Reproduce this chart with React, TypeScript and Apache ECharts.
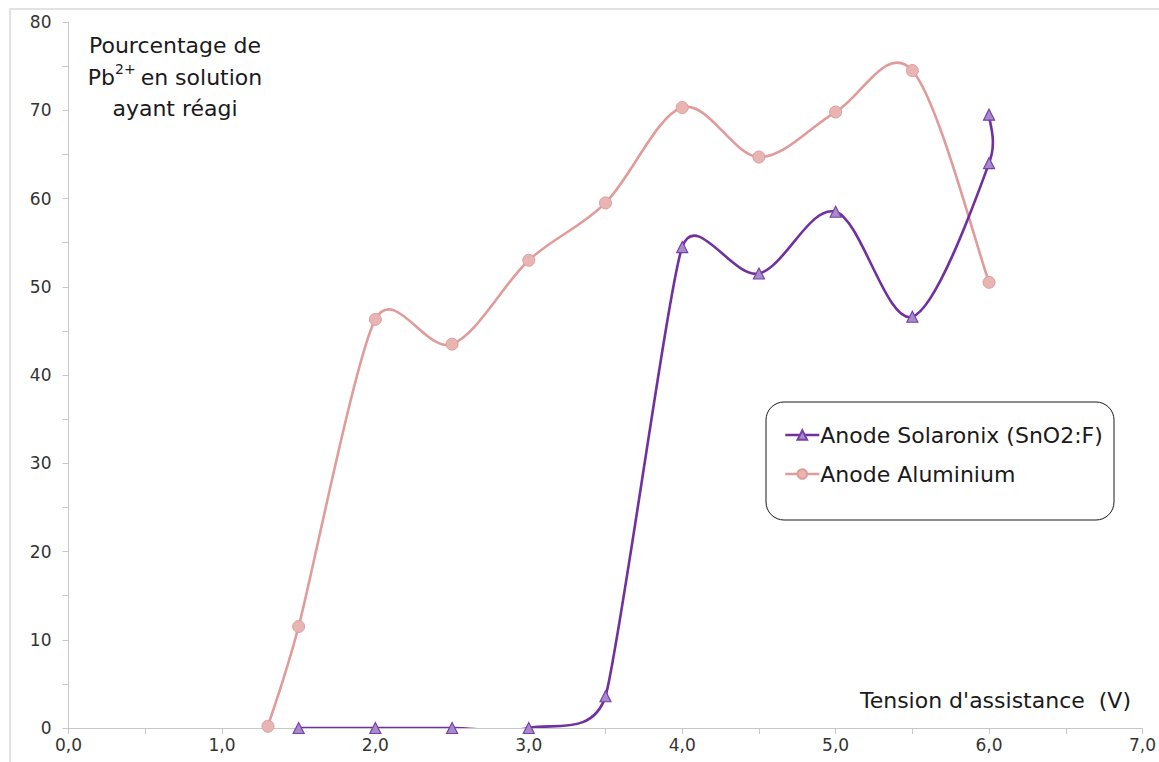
import React, { useEffect, useRef } from "react";
import * as echarts from "echarts";

const solaronixX = [1.5, 2.0, 2.5, 3.0, 3.5, 4.0, 4.5, 5.0, 5.5, 6.0, 6.0];
const solaronixY = [0, 0, 0, 0, 3.6, 54.5, 51.5, 58.5, 46.6, 64.0, 69.5];
const aluminiumX = [1.3, 1.5, 2.0, 2.5, 3.0, 3.5, 4.0, 4.5, 5.0, 5.5, 6.0];
const aluminiumY = [0.2, 11.5, 46.3, 43.5, 53.0, 59.5, 70.3, 64.7, 69.8, 74.5, 50.5];
const seriesNames = ["Anode Solaronix (SnO2:F)", "Anode Aluminium"];
const xTitle = "Tension d'assistance  (V)";

const FONT = "Verdana, 'DejaVu Sans', sans-serif";
const SOL_LINE = "#7030a0";
const ALU_LINE = "#e09c9a";

function dist(a: number[], b: number[]) {
  return Math.hypot(b[0] - a[0], b[1] - a[1]);
}

// Excel-like smoothed curve drawn through the chart's own coordinate system
function smoothRenderer(xs: number[], ys: number[], color: string) {
  return (params: any, api: any) => {
    if (params.dataIndex !== 0) return null;
    const pts = xs.map((x, i) => api.coord([x, ys[i]]));
    const n = pts.length;
    // tangent vector (scaled) at each point
    const tan = pts.map((p, i) => {
      const prev = pts[Math.max(i - 1, 0)];
      const next = pts[Math.min(i + 1, n - 1)];
      const d02 = dist(prev, next);
      if (d02 === 0) return [0, 0];
      const segs: number[] = [];
      if (i > 0) segs.push(dist(prev, p));
      if (i < n - 1) segs.push(dist(p, next));
      let f = 1 / 6;
      const lim = Math.min(...segs) / 2;
      if (d02 * f > lim) f = lim / d02;
      return [(next[0] - prev[0]) * f, (next[1] - prev[1]) * f];
    });
    let d = `M${pts[0][0]},${pts[0][1]}`;
    for (let i = 0; i < n - 1; i++) {
      const p1 = pts[i];
      const p2 = pts[i + 1];
      const c1x = p1[0] + tan[i][0];
      const c1y = p1[1] + tan[i][1];
      const c2x = p2[0] - tan[i + 1][0];
      const c2y = p2[1] - tan[i + 1][1];
      d += ` C${c1x},${c1y} ${c2x},${c2y} ${p2[0]},${p2[1]}`;
    }
    return {
      type: "path",
      shape: { pathData: d },
      style: { fill: "none", stroke: color, lineWidth: 2.6, lineJoin: "round", lineCap: "round" },
    };
  };
}

export default function App() {
  const ref = useRef<HTMLDivElement>(null);
  useEffect(() => {
    if (!ref.current) return;
    const chart = echarts.init(ref.current, undefined, { renderer: "svg" });
    const sol = solaronixX.map((x, i) => [x, solaronixY[i]]);
    const alu = aluminiumX.map((x, i) => [x, aluminiumY[i]]);
    const axisGray = "#c8c8c8";
    chart.setOption({
      animation: false,
      backgroundColor: "#ffffff",
      grid: { left: 68.5, right: 12, top: 22, bottom: 34 },
      xAxis: {
        type: "value",
        min: 0,
        max: 7,
        interval: 1,
        axisLine: { show: true, lineStyle: { color: axisGray, width: 1 } },
        axisTick: { show: true, length: 6, lineStyle: { color: axisGray } },
        minorTick: { show: true, splitNumber: 2, length: 6, lineStyle: { color: axisGray } },
        splitLine: { show: false },
        axisLabel: {
          margin: 8,
          fontSize: 17,
          fontFamily: FONT,
          color: "#333333",
          formatter: (v: number) => v.toFixed(1).replace(".", ","),
        },
      },
      yAxis: {
        type: "value",
        min: 0,
        max: 80,
        interval: 10,
        axisLine: { show: true, lineStyle: { color: axisGray, width: 1 } },
        axisTick: { show: true, length: 6, lineStyle: { color: axisGray } },
        minorTick: { show: true, splitNumber: 2, length: 6, lineStyle: { color: axisGray } },
        splitLine: { show: false },
        axisLabel: {
          margin: 17,
          fontSize: 17,
          fontFamily: FONT,
          color: "#333333",
        },
      },
      legend: {
        show: true,
        orient: "vertical",
        left: 784,
        top: 424,
        itemWidth: 34,
        itemHeight: 12,
        itemGap: 17,
        padding: 0,
        textStyle: { fontSize: 22, fontFamily: FONT, color: "#1a1a1a", padding: [0, 0, 0, -4] },
        data: [
          { name: seriesNames[0], lineStyle: { color: SOL_LINE, width: 2.6, opacity: 1 } },
          { name: seriesNames[1], lineStyle: { color: ALU_LINE, width: 2.6, opacity: 1 } },
        ],
      },
      graphic: [
        {
          type: "rect",
          shape: { x: 10, y: 9, width: 1170, height: 780 },
          style: { fill: "none", stroke: "#d9d9d9", lineWidth: 1.5 },
          silent: true,
          z: -10,
        },
        {
          type: "rect",
          shape: { x: 766, y: 402, width: 348, height: 118, r: 18 },
          style: { fill: "#ffffff", stroke: "#1a1a1a", lineWidth: 1 },
          z: 1,
        },
        {
          type: "text",
          x: 175,
          y: 30,
          z: 5,
          style: {
            text: "{n|Pourcentage de}\n{n|Pb}{s|2+}{n|en solution}\n{n|ayant réagi}",
            align: "center",
            verticalAlign: "top",
            fontFamily: FONT,
            fill: "#1a1a1a",
            rich: {
              n: { fontSize: 22, fontFamily: FONT, color: "#1a1a1a", lineHeight: 31.5 },
              s: {
                fontSize: 14,
                fontFamily: FONT,
                color: "#1a1a1a",
                lineHeight: 31.5,
                verticalAlign: "top",
                padding: [0, 5, 10, 0],
              },
            },
          },
        },
        {
          type: "text",
          x: 1131,
          y: 700,
          z: 5,
          style: {
            text: xTitle,
            align: "right",
            verticalAlign: "middle",
            fontSize: 22,
            fontFamily: FONT,
            fill: "#1a1a1a",
          },
        },
      ],
      series: [
        {
          name: seriesNames[0],
          type: "line",
          data: sol,
          symbol: "triangle",
          symbolSize: 11,
          lineStyle: { color: SOL_LINE, width: 2.6, opacity: 0 },
          itemStyle: { color: "#a58cc8", borderColor: "#7a3eb0", borderWidth: 1.2 },
          z: 4,
        },
        {
          name: seriesNames[1],
          type: "line",
          data: alu,
          symbol: "circle",
          symbolSize: 12,
          lineStyle: { color: ALU_LINE, width: 2.6, opacity: 0 },
          itemStyle: { color: "#e8b5b3", borderColor: "#dc9e9c", borderWidth: 1 },
          z: 3,
        },
        {
          name: "solCurve",
          type: "custom",
          data: sol,
          clip: true,
          silent: true,
          renderItem: smoothRenderer(solaronixX, solaronixY, SOL_LINE),
          z: 2,
        },
        {
          name: "aluCurve",
          type: "custom",
          data: alu,
          clip: true,
          silent: true,
          renderItem: smoothRenderer(aluminiumX, aluminiumY, ALU_LINE),
          z: 1,
        },
      ],
    });
    return () => chart.dispose();
  }, []);
  return (
    <div
      ref={ref}
      style={{ position: "fixed", left: 0, top: 0, width: 1159, height: 762 }}
    />
  );
}
